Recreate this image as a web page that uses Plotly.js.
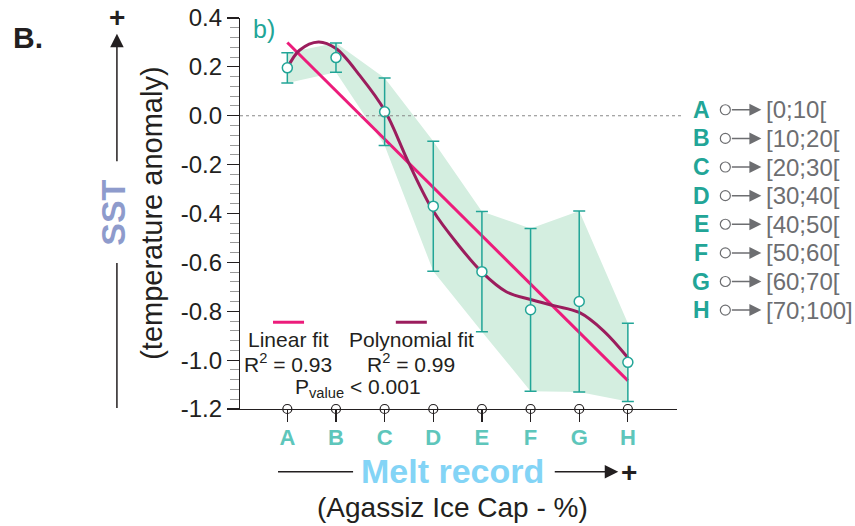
<!DOCTYPE html>
<html>
<head>
<meta charset="utf-8">
<script src="https://cdn.plot.ly/plotly-3.0.1.min.js"></script>
<style>
  html, body { margin: 0; padding: 0; background: #fff; }
  #chart { width: 855px; height: 526px; }
</style>
</head>
<body>
<div id="chart"></div>
<script>
// melt record classes (Agassiz Ice Cap - %)
var categories = ['A', 'B', 'C', 'D', 'E', 'F', 'G', 'H'];
var binLabels = ['[0;10[', '[10;20[', '[20;30[', '[30;40[', '[40;50[', '[50;60[', '[60;70[', '[70;100]'];

// SST anomaly per class, with error bar half-widths
var sstMean = [0.196, 0.238, 0.016, -0.370, -0.638, -0.794, -0.760, -1.009];
var sstErr = [0.062, 0.060, 0.138, 0.266, 0.246, 0.333, 0.370, 0.160];

// linear fit (class index -> anomaly)
var linX = [1, 8];
var linY = [0.30, -1.084];

// polynomial fit
var polyX = [1.0, 1.25, 1.64, 2.0, 2.5, 3.0, 3.5, 4.0, 4.5, 5.0, 5.5, 6.0, 6.5, 7.0, 7.5, 8.0];
var polyY = [0.195, 0.268, 0.302, 0.275, 0.162, 0.022, -0.195, -0.390, -0.525, -0.640, -0.720, -0.752, -0.778, -0.805, -0.880, -0.990];

var yTicks = [0.4, 0.2, 0.0, -0.2, -0.4, -0.6, -0.8, -1.0, -1.2];
var yTickText = ['0.4', '0.2', '0.0', '-0.2', '-0.4', '-0.6', '-0.8', '-1.0', '-1.2'];

var xs = categories.map(function(c, i) { return i + 1; });
var upper = sstMean.map(function(v, i) { return v + sstErr[i]; });
var lower = sstMean.map(function(v, i) { return v - sstErr[i]; });

var teal = '#22a597';
var tealLight = '#5ec6bb';
var pink = '#ec1c7b';
var plum = '#9b1d5d';
var ink = '#231f20';
var grey = '#6d6e71';
var font = 'Liberation Sans, Arial, sans-serif';

// plot area in pixels, used to place the decorations around it
var L = 240, R = 676.7, T = 18.3, B = 409;
function px(x) { return (x - L) / (R - L); }
function py(y) { return (B - y) / (B - T); }

var traces = [
    {
        x: xs.concat(xs.slice().reverse()),
        y: upper.concat(lower.slice().reverse()),
        fill: 'toself',
        fillcolor: 'rgba(212,238,224,1)',
        line: {width: 0},
        mode: 'lines',
        hoverinfo: 'skip'
    },
    {
        x: linX,
        y: linY,
        mode: 'lines',
        line: {color: pink, width: 3}
    },
    {
        x: polyX,
        y: polyY,
        mode: 'lines',
        line: {color: plum, width: 3, shape: 'spline', smoothing: 1}
    },
    {
        x: xs,
        y: sstMean,
        mode: 'markers',
        marker: {size: 10, color: '#fff', line: {color: teal, width: 1.5}},
        error_y: {type: 'data', array: sstErr, visible: true, color: teal, thickness: 1.5, width: 6}
    },
    {
        // open circles sitting on the category axis
        x: xs,
        y: xs.map(function() { return yTicks[yTicks.length - 1]; }),
        mode: 'markers',
        cliponaxis: false,
        marker: {size: 9, color: '#fff', line: {color: ink, width: 1.2}}
    }
];

var shapes = [
    {type: 'line', xref: 'paper', yref: 'y', x0: 0, x1: px(682), y0: 0, y1: 0,
     line: {color: '#888', width: 1, dash: 'dot'}},
    // legend swatches
    {type: 'line', xref: 'paper', yref: 'paper', x0: px(273), x1: px(304), y0: py(322.3), y1: py(322.3),
     line: {color: pink, width: 3}},
    {type: 'line', xref: 'paper', yref: 'paper', x0: px(395.7), x1: px(426.7), y0: py(322.3), y1: py(322.3),
     line: {color: plum, width: 3}},
    // axis direction lines
    {type: 'line', xref: 'paper', yref: 'paper', x0: px(117), x1: px(117), y0: py(263), y1: py(408),
     line: {color: ink, width: 1.5}},
    {type: 'line', xref: 'paper', yref: 'paper', x0: px(278), x1: px(353), y0: py(471.7), y1: py(471.7),
     line: {color: ink, width: 1.5}}
];

var annotations = [
    {text: '<b>B.</b>', x: px(28), y: py(38), font: {size: 30, color: ink}},
    {text: 'b)', x: px(264), y: py(29), font: {size: 25, color: teal}},
    {text: '<b>+</b>', x: px(117), y: py(18), font: {size: 28, color: ink}},
    {text: '', x: px(117), y: py(34), ax: 0, ay: 129, showarrow: true, arrowhead: 2,
     arrowsize: 1.8, arrowwidth: 1.5, arrowcolor: ink},
    {text: '<b>SST</b>', x: px(113), y: py(213), textangle: -90, font: {size: 34, color: '#8e9bcc'}},
    {text: '(temperature anomaly)', x: px(152), y: py(213), textangle: -90, font: {size: 29, color: ink}},
    {text: '<b>Melt record</b>', x: px(452), y: py(471), font: {size: 34, color: '#83d4f6'}},
    {text: '', x: px(618), y: py(471.7), ax: -65, ay: 0, showarrow: true, arrowhead: 2,
     arrowsize: 1.8, arrowwidth: 1.5, arrowcolor: ink},
    {text: '<b>+</b>', x: px(629), y: py(472), font: {size: 28, color: ink}},
    {text: '(Agassiz Ice Cap - %)', x: px(452), y: py(507), font: {size: 28, color: ink}},
    {text: 'Linear fit', x: px(288), y: py(340), font: {size: 21, color: ink}},
    {text: 'Polynomial fit', x: px(411.7), y: py(340), font: {size: 21, color: ink}},
    {text: 'R<sup>2</sup> = 0.93', x: px(288), y: py(363), font: {size: 21, color: ink}},
    {text: 'R<sup>2</sup> = 0.99', x: px(410.7), y: py(363), font: {size: 21, color: ink}},
    {text: 'P<sub>value</sub> &lt; 0.001', x: px(358), y: py(388), font: {size: 21, color: ink}}
];

// class key on the right
categories.forEach(function(c, i) {
    var rowY = 110 + i * 28.6;
    annotations.push({text: '<b>' + c + '</b>', x: px(700.7), y: py(rowY),
        font: {size: 23, color: teal}});
    annotations.push({text: '', x: px(761), y: py(rowY), ax: -31, ay: 0, showarrow: true,
        arrowhead: 2, arrowsize: 1.6, arrowwidth: 1.5, arrowcolor: grey});
    annotations.push({text: binLabels[i], x: px(764), y: py(rowY), xanchor: 'left',
        font: {size: 24, color: grey}});
    shapes.push({type: 'circle', xref: 'paper', yref: 'paper',
        x0: px(720), x1: px(730), y0: py(rowY + 5), y1: py(rowY - 5),
        fillcolor: '#fff', line: {color: grey, width: 1.2}});
});

annotations.forEach(function(a) {
    a.xref = 'paper';
    a.yref = 'paper';
    if (a.showarrow === undefined) a.showarrow = false;
    if (a.xanchor === undefined) a.xanchor = 'center';
    a.yanchor = 'middle';
});

var layout = {
    width: 855,
    height: 526,
    margin: {l: L, r: 855 - R, t: T, b: 526 - B},
    paper_bgcolor: '#fff',
    plot_bgcolor: '#fff',
    showlegend: false,
    font: {family: font, color: ink},
    xaxis: {
        range: [0.027, 9.01],
        tickvals: xs,
        ticktext: categories,
        tickfont: {size: 22, color: tealLight, weight: 'bold'},
        ticks: 'outside',
        ticklen: 12,
        tickcolor: ink,
        tickwidth: 1.2,
        ticklabelstandoff: -4,
        showline: true,
        linecolor: ink,
        linewidth: 1.2,
        showgrid: false,
        zeroline: false
    },
    yaxis: {
        range: [-1.2, 0.4],
        tickvals: yTicks,
        ticktext: yTickText,
        tickfont: {size: 24, color: ink},
        ticks: 'outside',
        ticklen: 12,
        tickcolor: ink,
        tickwidth: 1.2,
        minor: {dtick: 0.04, ticks: 'outside', ticklen: 9, tickcolor: '#999', tickwidth: 1, showgrid: false},
        showline: true,
        linecolor: ink,
        linewidth: 1.2,
        showgrid: false,
        zeroline: false
    },
    shapes: shapes,
    annotations: annotations
};

Plotly.newPlot('chart', traces, layout, {displayModeBar: false, staticPlot: true});
</script>
</body>
</html>
